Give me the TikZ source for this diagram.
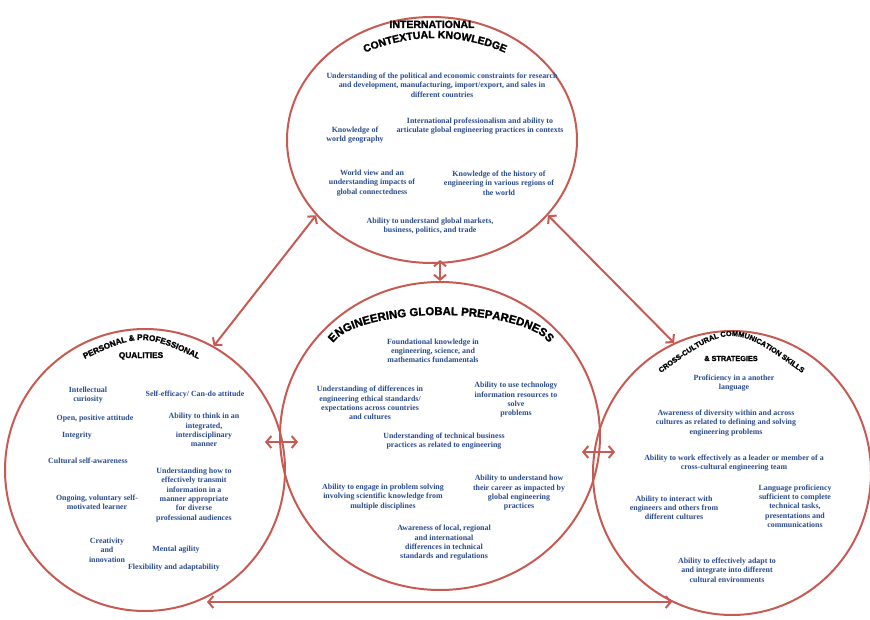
\documentclass[tikz,border=0pt]{standalone}
\usepackage{fontspec}
\setmainfont{Liberation Serif}
\newfontfamily\titlefont{Liberation Sans}[BoldFeatures={FakeBold=1.6}]
\usetikzlibrary{shapes.geometric,arrows.meta,decorations.text}
\definecolor{ringred}{HTML}{C75B53}
\definecolor{bodyblue}{HTML}{2A4A8C}
\begin{document}
\begin{tikzpicture}[x=1pt,y=-1pt,
  ring/.style={ellipse, draw=ringred, line width=2pt, inner sep=0pt},
  conn/.style={draw=ringred, line width=2pt, <->, >={Straight Barb[length=5pt,width=12pt]}},
  body/.style={align=center, text=bodyblue, font=\fontsize{7.9}{9.3}\selectfont\bfseries, inner sep=0pt},
  ttl/.style={inner sep=0pt, anchor=base},
]
\useasboundingbox (0,0) rectangle (870,620);

% circles
\node[ring, minimum width=290pt, minimum height=246pt] (T) at (432,140) {};
\node[ring, minimum width=320pt, minimum height=308pt] (C) at (440,436) {};
\node[ring, minimum width=280pt, minimum height=282pt] (L) at (145,470) {};
\node[ring, minimum width=278pt, minimum height=284pt] (R) at (732,473) {};

% titles
\node[ttl, font=\titlefont\bfseries\fontsize{10.5}{12}\selectfont] (t1) at (432,28) {INTERNATIONAL};
\path[decorate, decoration={text along path, text align=center,
  text={|\titlefont\bfseries\fontsize{10.5}{12}\selectfont|CONTEXTUAL KNOWLEDGE}}]
  (353.3,58.4) .. controls (404.3,31.3) and (465.7,31.3) .. (516.7,58.4);

\path[decorate, decoration={text along path, text align=center,
  text={|\titlefont\bfseries\fontsize{11.4}{13}\selectfont|ENGINEERING GLOBAL PREPAREDNESS}}]
  (331,364) -- (331,350) .. controls (331,330.7) and (380.2,315) .. (441,315)
  .. controls (501.8,315) and (551,330.7) .. (551,350) -- (551,364);

\path[decorate, decoration={text along path, text align=center,
  text={|\titlefont\bfseries\fontsize{8.2}{10}\selectfont|PERSONAL {\&} PROFESSIONAL}}]
  (74,364) .. controls (141.5,332) .. (209,364);
\node[ttl, font=\titlefont\bfseries\fontsize{8.3}{10}\selectfont] (t2) at (141,358) {QUALITIES};

\path[decorate, decoration={text along path, text align=center,
  text={|\titlefont\bfseries\fontsize{7.3}{9}\selectfont|CROSS-CULTURAL COMMUNICATION SKILLS}}]
  (650,381) .. controls (731.5,321) .. (813,381);
\node[ttl, font=\titlefont\bfseries\fontsize{7.3}{9}\selectfont] (t3) at (731,361) {\& STRATEGIES};

% top circle texts
\node[body] (n1) at (442,85) {Understanding of the political and economic constraints for research\\and development, manufacturing, import/export, and sales in\\different countries};
\node[body] (n2) at (355,135) {Knowledge of\\world geography};
\node[body] (n3) at (480,126) {International professionalism and ability to\\articulate global engineering practices  in contexts};
\node[body] (n4) at (372,183) {World view  and an\\understanding impacts of\\global connectedness};
\node[body] (n5) at (499,183) {Knowledge of the history of\\engineering in various regions of\\the world};
\node[body] (n6) at (430,226) {Ability to understand global markets,\\business, politics, and trade};

% center circle texts
\node[body] (n7) at (433,351) {Foundational knowledge in\\engineering, science, and\\mathematics fundamentals};
\node[body] (n8) at (370,403) {Understanding of differences in\\engineering ethical standards/\\expectations across countries\\and cultures};
\node[body] (n9) at (516,400) {Ability to use technology\\information resources to\\solve\\problems};
\node[body] (n10) at (444,441) {Understanding of technical business\\practices as related to engineering};
\node[body] (n11) at (383,497) {Ability to engage in problem solving\\involving scientific knowledge from\\multiple disciplines};
\node[body] (n12) at (519,493) {Ability to understand how\\their career as impacted by\\global  engineering\\practices};
\node[body] (n13) at (444,543) {Awareness of local, regional\\and international\\differences in technical\\standards and regulations};

% left circle texts
\node[body] (n14) at (88,395) {Intellectual\\curiosity};
\node[body] (n15) at (195,395) {Self-efficacy/ Can-do attitude};
\node[body] (n16) at (95,419) {Open, positive attitude};
\node[body] (n17) at (204,430) {Ability to think in an\\integrated,\\interdisciplinary\\manner};
\node[body] (n18) at (77,436) {Integrity};
\node[body] (n19) at (88,461) {Cultural self-awareness};
\node[body] (n20) at (194,495) {Understanding how to\\effectively transmit\\information in a\\manner appropriate\\for diverse\\professional audiences};
\node[body] (n21) at (97,502) {Ongoing, voluntary self-\\motivated learner};
\node[body] (n22) at (107,550) {Creativity\\and\\innovation};
\node[body] (n23) at (176,550) {Mental agility};
\node[body] (n24) at (174,568) {Flexibility and adaptability};

% right circle texts
\node[body] (n25) at (734,383) {Proficiency in a another\\language};
\node[body] (n26) at (726,423) {Awareness of diversity within and across\\cultures  as related to defining and solving\\engineering problems};
\node[body] (n27) at (734,463) {Ability to work effectively as a leader or member of a\\cross-cultural engineering team};
\node[body] (n28) at (674,508) {Ability to interact with\\engineers and others from\\different cultures};
\node[body] (n29) at (795,506) {Language proficiency\\sufficient  to complete\\technical tasks,\\presentations and\\communications};
\node[body] (n30) at (727,570) {Ability to effectively adapt to\\and integrate into different\\cultural environments};

% connectors
\coordinate (lc1) at (265,442);
\coordinate (lc2) at (298,442);
\coordinate (cr1) at (582,452);
\coordinate (cr2) at (615,452);
\coordinate (b1) at (207,602);
\coordinate (b2) at (672,602);
\draw[conn] (L.61) -- (T.213);
\draw[conn] (T.327) -- (R.114);
\draw[conn, shorten <=-4pt] (C.north |- T.south) -- (C.north);
\draw[conn] (lc1) -- (lc2);
\draw[conn] (cr1) -- (cr2);
\draw[conn] (b1) -- (b2);
\end{tikzpicture}
\end{document}
